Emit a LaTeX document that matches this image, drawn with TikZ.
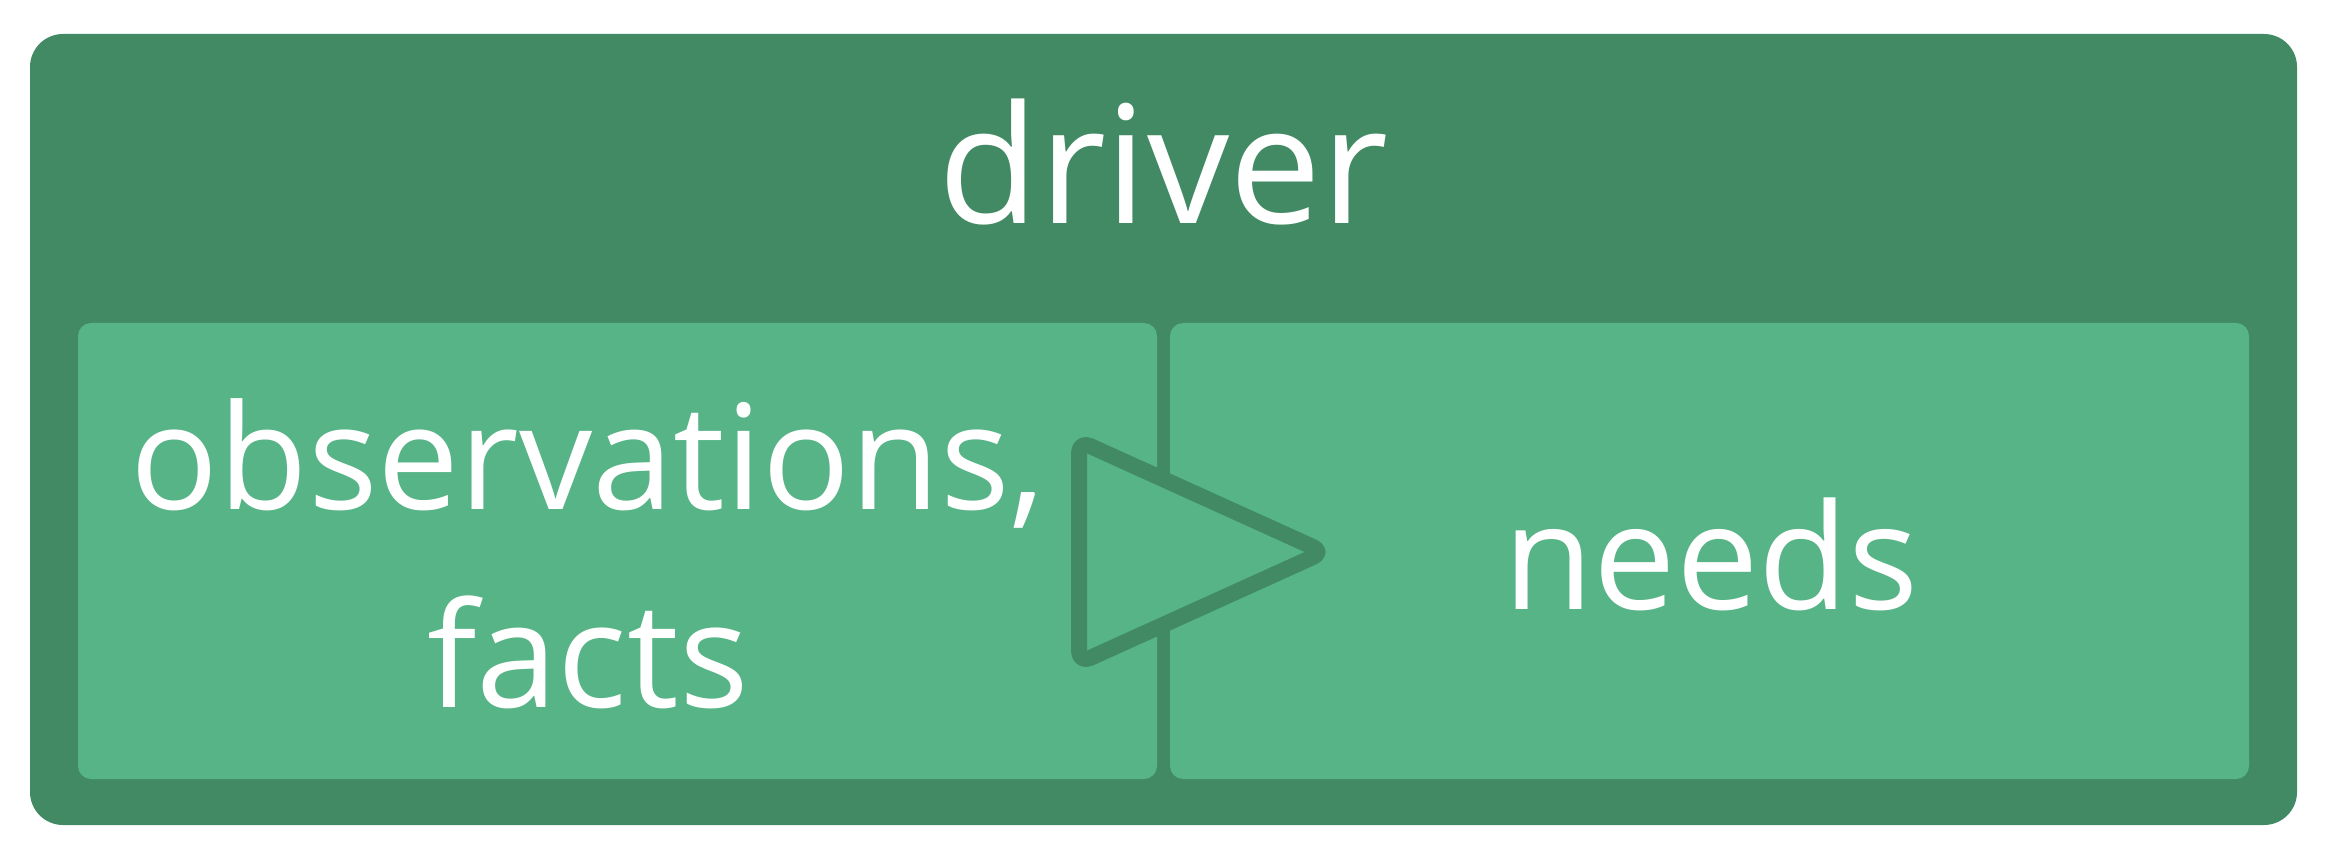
\documentclass[tikz,border=0pt]{standalone}
\usepackage{fontspec}
\setmainfont{Open Sans}
\definecolor{darkgreen}{HTML}{418A64}
\definecolor{lightgreen}{HTML}{56B486}
\begin{document}
\begin{tikzpicture}[x=0.5pt,y=-0.5pt,
  boxouter/.style={fill=darkgreen,draw=none,rounded corners=16.5pt,inner sep=0pt,minimum width=1133.5pt,minimum height=395.5pt},
  boxinner/.style={fill=lightgreen,draw=none,rounded corners=6.5pt,inner sep=0pt,minimum width=539.5pt,minimum height=228pt},
  label/.style={text=white,inner sep=0pt,anchor=base,align=center}]
\useasboundingbox (0,0) rectangle (2333,855);
\node[boxouter] (driverbox) at (1163.5,429.5) {};
\node[boxinner] (obsbox) at (617.5,551) {};
\node[boxinner] (needsbox) at (1709.5,551) {};
\node[label,font=\fontsize{82pt}{98pt}\selectfont] (driver) at (1163.5,224) {driver};
\node[label,font=\fontsize{73pt}{99pt}\selectfont] (obs) at (588,707) {observations,\\facts};
\node[label,font=\fontsize{73.5pt}{99pt}\selectfont] (needs) at (1711,609) {needs};
\draw[darkgreen,fill=lightgreen,line width=8pt,line join=round,rounded corners=6pt]
  (1079,441) -- (1324,552) -- (1079,663) -- cycle;
\end{tikzpicture}
\end{document}
